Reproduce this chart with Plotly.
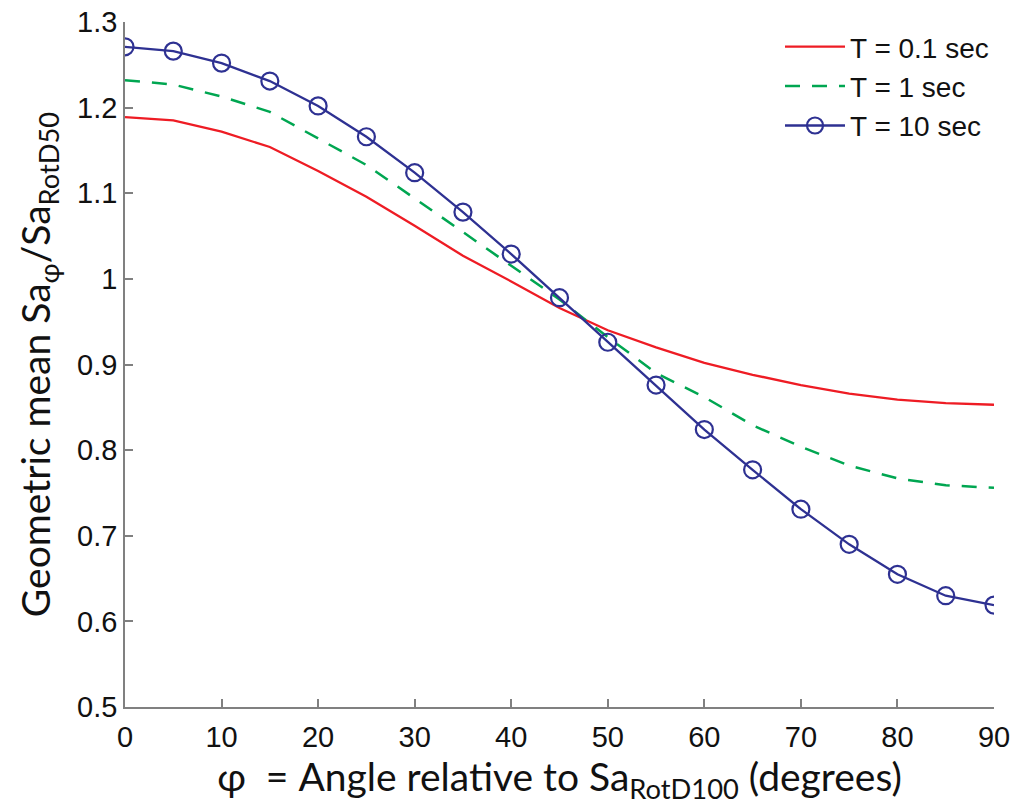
import plotly.graph_objects as go

# Angle relative to Sa_RotD100 (degrees)
angle = [0, 5, 10, 15, 20, 25, 30, 35, 40, 45, 50, 55, 60, 65, 70, 75, 80, 85, 90]

# Geometric mean Sa_phi / Sa_RotD50 for three periods
ratio_t01 = [1.189, 1.185, 1.172, 1.154, 1.126, 1.096, 1.062, 1.027, 0.997, 0.966,
             0.940, 0.920, 0.902, 0.888, 0.876, 0.866, 0.859, 0.855, 0.853]
ratio_t1 = [1.232, 1.227, 1.213, 1.195, 1.164, 1.133, 1.094, 1.055, 1.015, 0.976,
            0.932, 0.890, 0.862, 0.829, 0.804, 0.782, 0.767, 0.759, 0.756]
ratio_t10 = [1.271, 1.266, 1.252, 1.231, 1.202, 1.166, 1.124, 1.078, 1.029, 0.978,
             0.926, 0.876, 0.824, 0.777, 0.731, 0.690, 0.655, 0.630, 0.619]

x_ticks = [0, 10, 20, 30, 40, 50, 60, 70, 80, 90]
y_ticks = [0.5, 0.6, 0.7, 0.8, 0.9, 1.0, 1.1, 1.2, 1.3]
y_tick_text = ["0.5", "0.6", "0.7", "0.8", "0.9", "1", "1.1", "1.2", "1.3"]

tick_font = dict(family="Liberation Sans, Arial, sans-serif", size=29, color="#111111")
title_font = dict(family="Lato, Open Sans, sans-serif", size=39, color="#111111")

fig = go.Figure()
fig.add_trace(go.Scatter(
    x=angle, y=ratio_t01, mode="lines", name="T = 0.1 sec",
    line=dict(color="#ee1c24", width=2.3),
))
fig.add_trace(go.Scatter(
    x=angle, y=ratio_t1, mode="lines", name="T = 1 sec",
    line=dict(color="#00a651", width=2.5, dash="15px,12px"),
))
fig.add_trace(go.Scatter(
    x=angle, y=ratio_t10, mode="lines+markers", name="T = 10 sec",
    line=dict(color="#2e3192", width=2.3),
    marker=dict(symbol="circle-open", size=17, color="#2e3192",
                line=dict(width=2.2, color="#2e3192")),
))

axis_common = dict(
    showgrid=False, zeroline=False, showline=True,
    linecolor="#808080", linewidth=1.5,
    ticks="inside", ticklen=8, tickwidth=1.5, tickcolor="#808080",
    tickfont=tick_font, mirror=False,
)

fig.update_xaxes(
    range=[0, 90], tickvals=x_ticks, ticktext=[str(v) for v in x_ticks],
    ticklabelstandoff=3,
    title=dict(text="φ&nbsp; = Angle relative to Sa<sub>RotD100</sub> (degrees)",
               font=title_font, standoff=10),
    **axis_common,
)
fig.update_yaxes(
    range=[0.5, 1.3], tickvals=y_ticks, ticktext=y_tick_text,
    title=dict(text="Geometric mean Sa<sub>φ</sub>/Sa<sub>RotD50</sub>",
               font=title_font, standoff=14),
    **axis_common,
)

fig.update_layout(
    width=1014, height=812,
    margin=dict(l=125, r=20, t=22, b=105, autoexpand=False),
    plot_bgcolor="white", paper_bgcolor="white",
    showlegend=True,
    legend=dict(
        x=1.0, y=1.0, xanchor="right", yanchor="top",
        bgcolor="rgba(255,255,255,0)", borderwidth=0,
        font=dict(family="Liberation Sans, Arial, sans-serif", size=28, color="#111111"),
        tracegroupgap=0, itemwidth=60,
    ),
)

fig.write_html("out.html")
